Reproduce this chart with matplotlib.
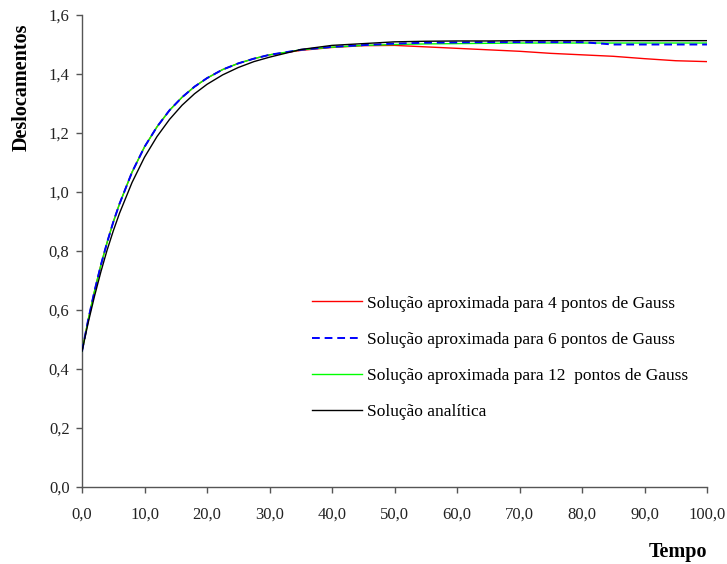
# Deslocamentos x Tempo - soluções aproximadas vs analítica

import matplotlib.pyplot as plt

plt.rcParams["font.family"] = ["Liberation Serif", "DejaVu Serif"]

tempo = [0, 1, 2, 3, 4, 5, 6, 8, 10, 12, 14, 16, 18, 20, 22.5, 25, 27.5, 30,
         35, 40, 45, 50, 55, 60, 65, 70, 75, 80, 85, 90, 95, 100]

gauss4 = [0.46, 0.568, 0.664, 0.751, 0.828, 0.898, 0.960, 1.067, 1.153, 1.221,
          1.277, 1.321, 1.357, 1.386, 1.415, 1.436, 1.452, 1.465,
          1.480, 1.490, 1.496, 1.497, 1.492, 1.487, 1.482, 1.477, 1.470,
          1.465, 1.460, 1.452, 1.445, 1.442]

gauss6 = [0.46, 0.568, 0.664, 0.751, 0.828, 0.898, 0.960, 1.067, 1.153, 1.221,
          1.277, 1.321, 1.357, 1.386, 1.415, 1.436, 1.452, 1.465,
          1.482, 1.492, 1.498, 1.503, 1.506, 1.507, 1.508, 1.508, 1.508,
          1.508, 1.500, 1.500, 1.500, 1.500]

gauss12 = [0.46, 0.568, 0.664, 0.751, 0.828, 0.898, 0.960, 1.067, 1.153, 1.221,
           1.277, 1.321, 1.357, 1.386, 1.415, 1.436, 1.452, 1.465,
           1.482, 1.491, 1.497, 1.500, 1.502, 1.503, 1.504, 1.505, 1.505,
           1.505, 1.505, 1.505, 1.505, 1.505]

analitica = [0.46, 0.558, 0.647, 0.728, 0.802, 0.868, 0.928, 1.032, 1.118, 1.188,
             1.246, 1.294, 1.333, 1.365, 1.397, 1.422, 1.442, 1.457,
             1.483, 1.497, 1.503, 1.509, 1.511, 1.512, 1.512, 1.513, 1.513,
             1.513, 1.513, 1.513, 1.513, 1.513]

xticks = [0, 10, 20, 30, 40, 50, 60, 70, 80, 90, 100]
xlabels = ["0,0", "10,0", "20,0", "30,0", "40,0", "50,0", "60,0", "70,0",
           "80,0", "90,0", "100,0"]
yticks = [0.0, 0.2, 0.4, 0.6, 0.8, 1.0, 1.2, 1.4, 1.6]
ylabels = ["0,0", "0,2", "0,4", "0,6", "0,8", "1,0", "1,2", "1,4", "1,6"]

fig = plt.figure(figsize=(7.27, 5.64), dpi=100)
ax = fig.add_axes([0.1128, 0.1365, 0.8597, 0.8369])

ax.plot(tempo, gauss4, color="#ff0000", lw=1.0, zorder=2,
        label="Solução aproximada para 4 pontos de Gauss")
ax.plot(tempo, gauss6, color="#0000ff", lw=1.4, ls=(0, (4, 2.5)), zorder=4,
        label="Solução aproximada para 6 pontos de Gauss")
ax.plot(tempo, gauss12, color="#00ff00", lw=1.0, zorder=3,
        label="Solução aproximada para 12  pontos de Gauss")
ax.plot(tempo, analitica, color="black", lw=1.0, zorder=5,
        label="Solução analítica")

ax.set_xlim(0, 100)
ax.set_ylim(0, 1.6)
ax.set_xticks(xticks)
ax.set_xticklabels(xlabels)
ax.set_yticks(yticks)
ax.set_yticklabels(ylabels)

for s in ["top", "right"]:
    ax.spines[s].set_visible(False)
for s in ["left", "bottom"]:
    ax.spines[s].set_color("#555555")
    ax.spines[s].set_linewidth(1.0)
ax.tick_params(direction="out", length=4, width=1.0, color="#555555",
               labelsize=12, labelcolor="#222222", pad=5)
ax.tick_params(axis="x", pad=10)

fig.text(0.030, 0.845, "Deslocamentos", rotation=90, ha="center", va="center",
         fontsize=14.5, fontweight="bold")
fig.text(0.973, 0.022, "Tempo", ha="right", va="center",
         fontsize=14.5, fontweight="bold")

ax.legend(loc="upper left", bbox_to_anchor=(0.368, 0.406), frameon=False,
          fontsize=12.5, handlelength=2.9, handletextpad=0.25,
          labelspacing=1.15, borderpad=0, borderaxespad=0)

fig.savefig("out.png", dpi=100)
